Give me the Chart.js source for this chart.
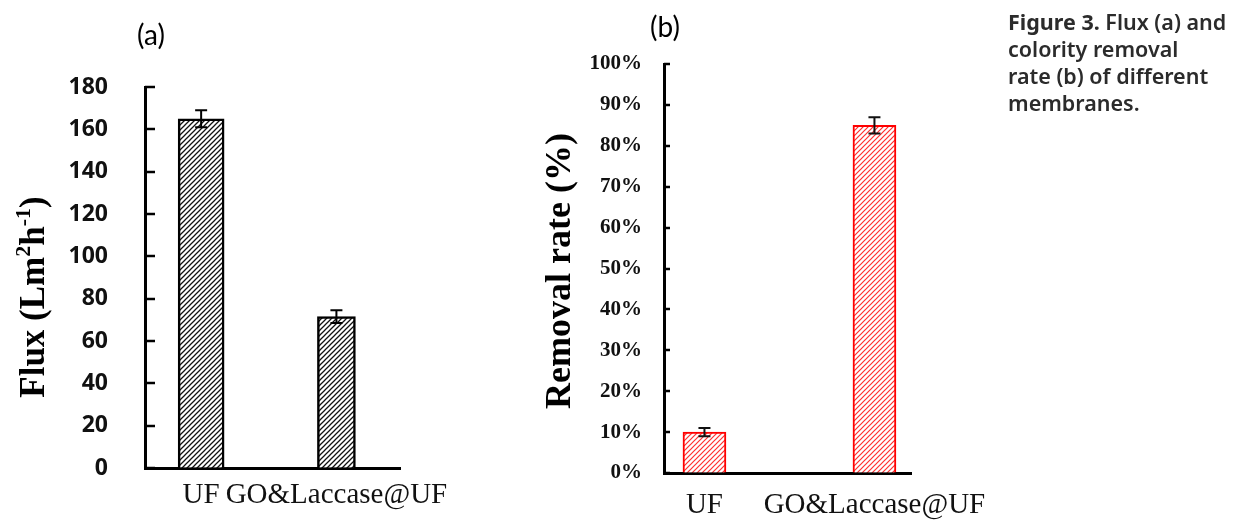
<!DOCTYPE html>
<html>
<head>
<meta charset="utf-8">
<script src="https://cdn.jsdelivr.net/npm/chart.js@4"></script>
<style>
  html, body { margin: 0; padding: 0; background: #fff; }
  body { width: 1235px; height: 520px; position: relative; overflow: hidden; }
  #wrapA { position: absolute; left: 0; top: 0; width: 520px; height: 520px; }
  #wrapB { position: absolute; left: 520px; top: 0; width: 500px; height: 520px; }
  #caption { position: absolute; left: 1008px; top: 8px; width: 227px; white-space: nowrap;
    font-family: "Noto Sans", "Open Sans", sans-serif; font-size: 21.5px; line-height: 27px;
    font-weight: 600; color: #2b2b2b; }
  #caption b { font-weight: 700; }
</style>
</head>
<body>
<div id="wrapA"><canvas id="chartA" width="520" height="520"></canvas></div>
<div id="wrapB"><canvas id="chartB" width="500" height="520"></canvas></div>
<div id="caption"><b>Figure 3.</b> Flux (a) and<br>colority removal<br>rate (b) of different<br>membranes.</div>
<script>
// ---- data ----
const categories = ['UF', 'GO&Laccase@UF'];
const fluxValues = [165, 71.5];
const fluxErrors = [4, 3];
const removalValues = [10, 85];
const removalErrors = [1, 2];
const fluxTicks = [0, 20, 40, 60, 80, 100, 120, 140, 160, 180];
const removalTicks = [0, 10, 20, 30, 40, 50, 60, 70, 80, 90, 100];
const removalTickLabels = ['0%', '10%', '20%', '30%', '40%', '50%', '60%', '70%', '80%', '90%', '100%'];

function hatch(color, spacing, lw) {
  const c = document.createElement('canvas');
  c.width = spacing; c.height = spacing;
  const x = c.getContext('2d');
  x.fillStyle = '#fff';
  x.fillRect(0, 0, spacing, spacing);
  x.strokeStyle = color;
  x.lineWidth = lw;
  x.beginPath();
  x.moveTo(0, spacing); x.lineTo(spacing, 0);
  x.moveTo(-2, 2); x.lineTo(2, -2);
  x.moveTo(spacing - 2, spacing + 2); x.lineTo(spacing + 2, spacing - 2);
  x.stroke();
  return x.createPattern(c, 'repeat');
}

function errorPlugin(values, errors, color, lw, cap) {
  return {
    id: 'errorBars',
    afterDatasetsDraw(chart) {
      const ctx = chart.ctx, xs = chart.scales.x, ys = chart.scales.y;
      ctx.save();
      ctx.strokeStyle = color; ctx.lineWidth = lw;
      values.forEach((v, i) => {
        const x = xs.getPixelForValue(i);
        const t = ys.getPixelForValue(v + errors[i]);
        const b = ys.getPixelForValue(v - errors[i]);
        ctx.beginPath();
        ctx.moveTo(x, t); ctx.lineTo(x, b);
        ctx.moveTo(x - cap, t); ctx.lineTo(x + cap, t);
        ctx.moveTo(x - cap, b); ctx.lineTo(x + cap, b);
        ctx.stroke();
      });
      ctx.restore();
    }
  };
}

function insideTicks(len, lw) {
  return {
    id: 'insideTicks',
    afterDraw(chart) {
      const ctx = chart.ctx, ys = chart.scales.y, left = chart.chartArea.left;
      ctx.save();
      ctx.strokeStyle = '#000'; ctx.lineWidth = lw;
      ys.ticks.forEach(t => {
        const y = Math.round(ys.getPixelForValue(t.value));
        ctx.beginPath(); ctx.moveTo(left, y); ctx.lineTo(left + len, y); ctx.stroke();
      });
      ctx.restore();
    }
  };
}

function textDecor(panel, px, py, panelFont, segments, titleFont, tx, ty) {
  return {
    id: 'textDecor',
    afterDraw(chart) {
      const ctx = chart.ctx;
      ctx.save();
      ctx.fillStyle = '#000';
      ctx.font = panelFont;
      ctx.textAlign = 'center'; ctx.textBaseline = 'middle';
      ctx.fillText(panel, px, py);
      // rotated axis title with superscripts
      const size = titleFont.size;
      const base = 'bold ' + size + 'px "Liberation Serif", "Times New Roman", serif';
      const sup = 'bold ' + Math.round(size * 0.62) + 'px "Liberation Serif", "Times New Roman", serif';
      let total = 0;
      segments.forEach(s => { ctx.font = s.sup ? sup : base; s.w = ctx.measureText(s.t).width; total += s.w; });
      ctx.translate(tx, ty);
      ctx.rotate(-Math.PI / 2);
      ctx.textAlign = 'left'; ctx.textBaseline = 'alphabetic';
      let x = -total / 2;
      const baseY = size * 0.33;
      segments.forEach(s => {
        ctx.font = s.sup ? sup : base;
        ctx.fillText(s.t, x, s.sup ? baseY - size * 0.38 : baseY);
        x += s.w;
      });
      ctx.restore();
    }
  };
}

function xScale(min, max, labelFontSize, padding, height) {
  return {
    type: 'linear', min: min, max: max, offset: false,
    afterBuildTicks: s => { s.ticks = categories.map((c, i) => ({ value: i })); },
    afterFit: s => { s.height = height; },
    border: { color: '#000', width: 3 },
    grid: { drawOnChartArea: false, drawTicks: false },
    ticks: {
      padding: padding, color: '#111', maxRotation: 0, autoSkip: false,
      font: { family: '"Liberation Serif", "Times New Roman", serif', size: labelFontSize },
      callback: v => categories[v]
    }
  };
}

// ---- Chart (a) ----
const patA = hatch('#111', 5, 1.25);
new Chart(document.getElementById('chartA'), {
  type: 'bar',
  data: {
    datasets: [
      { data: [{ x: 0, y: fluxValues[0] }], backgroundColor: patA, borderColor: '#000', borderWidth: 2.5, barThickness: 46, grouped: false },
      { data: [{ x: 1, y: fluxValues[1] }], backgroundColor: patA, borderColor: '#000', borderWidth: 2.5, barThickness: 38, grouped: false }
    ]
  },
  options: {
    responsive: false, animation: false,
    layout: { padding: { left: 0, right: 120, top: 87, bottom: 0 } },
    plugins: { legend: { display: false }, tooltip: { enabled: false } },
    scales: {
      x: xScale(-0.415, 1.47, 29, 10, 52),
      y: {
        type: 'linear', min: 0, max: 180,
        afterBuildTicks: s => { s.ticks = fluxTicks.map(v => ({ value: v })); },
        afterFit: s => { s.width = 145; },
        border: { color: '#000', width: 3 },
        grid: { drawOnChartArea: false, drawTicks: false },
        ticks: { padding: 37, color: '#111', font: { family: '"Open Sans", sans-serif', size: 23, weight: 'bold' } }
      }
    }
  },
  plugins: [
    errorPlugin(fluxValues, fluxErrors, '#000', 2, 6),
    insideTicks(10, 2.5),
    textDecor('(a)', 151, 36, '28px Lato, "Open Sans", sans-serif',
      [{ t: 'Flux (Lm' }, { t: '2', sup: true }, { t: 'h' }, { t: '-1', sup: true }, { t: ')' }],
      { size: 35 }, 32, 297)
  ]
});

// ---- Chart (b) ----
const patB = hatch('#ff3030', 5, 1.2);
new Chart(document.getElementById('chartB'), {
  type: 'bar',
  data: {
    datasets: [
      { data: removalValues.map((v, i) => ({ x: i, y: v })), backgroundColor: patB, borderColor: '#ff0000', borderWidth: 2, barThickness: 43, grouped: false }
    ]
  },
  options: {
    responsive: false, animation: false,
    layout: { padding: { left: 0, right: 109, top: 64, bottom: 0 } },
    plugins: { legend: { display: false }, tooltip: { enabled: false } },
    scales: {
      x: xScale(-0.238, 1.215, 29, 15, 47),
      y: {
        type: 'linear', min: 0, max: 100,
        afterBuildTicks: s => { s.ticks = removalTicks.map(v => ({ value: v })); },
        afterFit: s => { s.width = 144; },
        border: { color: '#000', width: 3 },
        grid: { drawOnChartArea: false, drawTicks: false },
        ticks: {
          padding: 22, color: '#111',
          font: { family: '"Liberation Serif", "Times New Roman", serif', size: 21, weight: 'bold' },
          callback: (v) => removalTickLabels[removalTicks.indexOf(v)]
        }
      }
    }
  },
  plugins: [
    errorPlugin(removalValues, removalErrors, '#111', 2, 6),
    insideTicks(6, 2.5),
    textDecor('(b)', 145, 28, '28px Lato, "Open Sans", sans-serif',
      [{ t: 'Removal rate (%)' }],
      { size: 36 }, 38, 271)
  ]
});
</script>
</body>
</html>
